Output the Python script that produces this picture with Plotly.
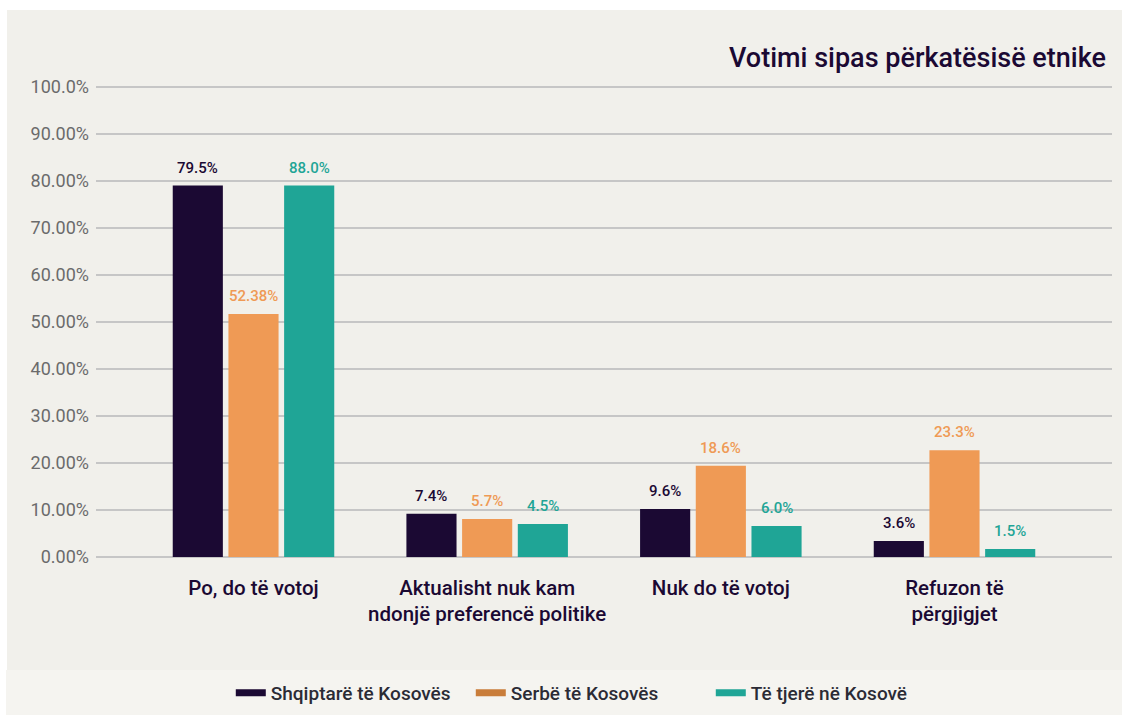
import plotly.graph_objects as go

categories = ["Po, do të votoj",
              "Aktualisht nuk kam<br>ndonjë preferencë politike",
              "Nuk do të votoj",
              "Refuzon të<br>përgjigjet"]
series_names = ["Shqiptarë të Kosovës", "Serbë të Kosovës", "Të tjerë në Kosovë"]
shq_values = [79.0, 9.2, 10.2, 3.4]
serb_values = [51.7, 8.1, 19.4, 22.7]
tjere_values = [79.0, 7.0, 6.6, 1.7]
shq_labels = ["79.5%", "7.4%", "9.6%", "3.6%"]
serb_labels = ["52.38%", "5.7%", "18.6%", "23.3%"]
tjere_labels = ["88.0%", "4.5%", "6.0%", "1.5%"]
y_tickvals = [0, 10, 20, 30, 40, 50, 60, 70, 80, 90, 100]
y_ticktext = ["0.00%", "10.00%", "20.00%", "30.00%", "40.00%", "50.00%",
              "60.00%", "70.00%", "80.00%", "90.00%", "100.0%"]

bar_colors = ["#1b0933", "#ef9a55", "#1fa596"]
legend_colors = ["#1b0933", "#c97d3a", "#1fa596"]
FONT = "Roboto"
DARK = "#1b0933"

fig = go.Figure()
all_vals = [shq_values, serb_values, tjere_values]
all_labs = [shq_labels, serb_labels, tjere_labels]
for vals, col in zip(all_vals, bar_colors):
    fig.add_trace(go.Bar(
        x=categories, y=vals,
        marker=dict(color=col, line=dict(width=0)),
        showlegend=False, hoverinfo="skip",
    ))

# value labels above bars
slot_px = 55.7
for k, (vals, labs, col) in enumerate(zip(all_vals, all_labs, bar_colors)):
    for cat, v, lab in zip(categories, vals, labs):
        fig.add_annotation(x=cat, y=v, text=lab, showarrow=False,
                           xanchor="center", yanchor="bottom",
                           xshift=(k - 1) * slot_px, yshift=7,
                           font=dict(size=15, color=col, family=FONT, weight=500))

for name, col in zip(series_names, legend_colors):
    fig.add_trace(go.Scatter(
        x=[None], y=[None], mode="lines", name=name,
        line=dict(color=col, width=7),
    ))

# Panel backgrounds
fig.add_shape(type="rect", xref="paper", yref="paper", x0=-0.0876, x1=1.0098,
              y0=-0.2394, y1=1.1589, fillcolor="#f1f0eb", line=dict(width=0), layer="below")
fig.add_shape(type="rect", xref="paper", yref="paper", x0=-0.0886, x1=1.0098,
              y0=-0.3390, y1=-0.2394, fillcolor="#f5f4f0", line=dict(width=0), layer="below")

fig.add_annotation(text="Votimi sipas përkatësisë etnike", xref="paper", yref="paper",
                   x=0.996, y=1.0572, xanchor="right", yanchor="middle", showarrow=False,
                   font=dict(size=27, color=DARK, family=FONT, weight=500))

fig.update_layout(
    width=1129, height=715,
    margin=dict(l=96, r=17, t=85, b=158, autoexpand=False),
    paper_bgcolor="white", plot_bgcolor="rgba(0,0,0,0)",
    barmode="group", bargap=0.285, bargroupgap=0.1,
    font=dict(family=FONT),
    legend=dict(orientation="h", x=0.487, xanchor="center", y=-0.288, yanchor="middle",
                font=dict(size=19, color="#2b2b35", family=FONT, weight=500), itemwidth=30,
                entrywidth=195, entrywidthmode="pixels",
                bgcolor="rgba(0,0,0,0)", traceorder="normal"),
    xaxis=dict(type="category", range=[-0.674, 3.674], showgrid=False, showline=False,
               automargin=False, ticks="",
               tickfont=dict(size=20.5, color=DARK, family=FONT, weight=500),
               ticklabelstandoff=16),
    yaxis=dict(range=[0, 100.4], tickvals=y_tickvals, ticktext=y_ticktext,
               showgrid=True, gridcolor="#c6c6c6", gridwidth=1.5,
               zeroline=True, zerolinecolor="#c6c6c6", zerolinewidth=1.5,
               automargin=False, showline=False, ticks="",
               tickfont=dict(size=18, color="#6b6b6b", family=FONT),
               ticklabelstandoff=6),
)

fig.write_html("out.html", config={"displayModeBar": False},
               post_script="document.body.style.margin='0';")
